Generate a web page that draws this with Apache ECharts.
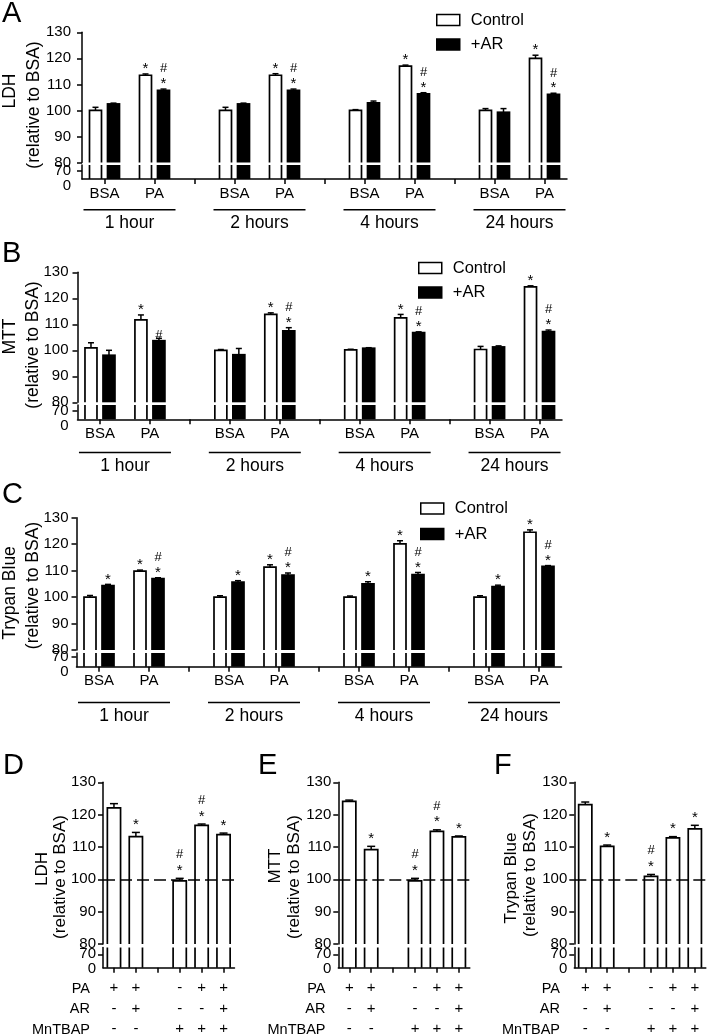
<!DOCTYPE html>
<html><head><meta charset="utf-8">
<script src="https://cdn.jsdelivr.net/npm/echarts@6/dist/echarts.min.js"></script>
<style>html,body{margin:0;padding:0;background:#fff}#c{width:707px;height:1034px}</style>
</head><body><div id="c"></div>
<script>
const FONT = '"Liberation Sans", Arial, Helvetica, sans-serif';

// ================= DATA =================
const timeGroups = ['1 hour', '2 hours', '4 hours', '24 hours'];
const conditions = ['BSA', 'PA'];
const legendNames = ['Control', '+AR'];

// Panels A–C, order: 1h BSA, 1h PA, 2h BSA, 2h PA, 4h BSA, 4h PA, 24h BSA, 24h PA
const ldhControl    = [100, 113.5, 100, 113.5, 100, 117.0, 100, 120.0];
const ldhControlErr = [1.2, 0.5, 1.2, 0.6, 0.3, 0.4, 0.7, 1.2];
const ldhControlSig = ['', '*', '', '*', '', '*', '', '*'];
const ldhAR         = [102.5, 107.7, 102.5, 107.7, 102.9, 106.4, 99.3, 106.2];
const ldhARErr      = [0.3, 0.5, 0.3, 0.5, 0.7, 0.4, 1.4, 0.4];
const ldhARSig      = ['', '#*', '', '#*', '', '#*', '', '#*'];

const mttControl    = [100.9, 111.7, 100, 113.8, 100.2, 112.5, 100.3, 124.4];
const mttControlErr = [2.0, 1.9, 0.3, 0.6, 0.2, 1.3, 1.2, 0.4];
const mttControlSig = ['', '*', '', '*', '', '*', '', '*'];
const mttAR         = [98.1, 103.7, 98.3, 107.5, 100.8, 106.8, 101.3, 107.2];
const mttARErr      = [1.9, 0.9, 2.4, 1.2, 0.2, 0.3, 0.4, 0.6];
const mttARSig      = ['', '#', '', '#*', '', '#*', '', '#*'];

const tbControl     = [100, 109.8, 100, 111.3, 100, 120.1, 100, 124.5];
const tbControlErr  = [0.6, 0.4, 0.5, 0.9, 0.4, 1.2, 0.5, 0.9];
const tbControlSig  = ['', '*', '', '*', '', '*', '', '*'];
const tbAR          = [104.3, 107.0, 105.7, 108.3, 105.0, 108.5, 104.0, 111.6];
const tbARErr       = [0.5, 0.3, 0.5, 0.8, 0.8, 0.8, 0.5, 0.3];
const tbARSig       = ['*', '#*', '*', '#*', '*', '#*', '*', '#*'];

// Panels D–F
const rowNames  = ['PA', 'AR', 'MnTBAP'];
const paRow     = ['+', '+', '-', '+', '+'];
const arRow     = ['-', '+', '-', '-', '+'];
const mntbapRow = ['-', '-', '+', '+', '+'];

const ldhMn     = [122.1, 113.2, 99.5, 116.7, 113.8];
const ldhMnErr  = [1.3, 1.3, 0.8, 0.4, 0.5];
const ldhMnSig  = ['', '*', '#*', '#*', '*'];
const mttMn     = [124.1, 109.2, 99.5, 114.8, 113.1];
const mttMnErr  = [0.4, 1.0, 0.8, 0.5, 0.3];
const mttMnSig  = ['', '*', '#*', '#*', '*'];
const tbMn      = [123.1, 110.2, 100.9, 112.8, 115.6];
const tbMnErr   = [0.8, 0.4, 0.6, 0.4, 1.1];
const tbMnSig   = ['', '*', '#*', '*', '*'];

// ================= CATEGORY SLOTS =================
const LEAD = 4, PAIR = 10, HALF = 8, PERIOD = PAIR + 2 * HALF;
const nTop = 2 * LEAD + (timeGroups.length - 1) * PERIOD + PAIR + 1;
const topCats = Array.from({length: nTop}, (_, i) => 'slot' + i);
const topLabel = {}, topTicks = new Set(), topPos = [];
timeGroups.forEach((g, gi) => {
  const b = LEAD + gi * PERIOD;
  conditions.forEach((c, ci) => {
    const idx = b + ci * PAIR;
    topPos.push(idx); topLabel[idx] = {kind: 'c', text: c}; topTicks.add(idx);
  });
  topLabel[b + PAIR / 2] = {kind: 'g', text: g};
  if (gi < timeGroups.length - 1) topTicks.add(b + PAIR + HALF);
});
const botPos = paRow.map((_, i) => (i < 2 ? i : i + 1));
const botCats = Array.from({length: paRow.length + 1}, (_, i) => 'b' + i);
const botLabel = {};
botPos.forEach((p, k) => { botLabel[p] = `{r|${paRow[k]}}\n{r|${arRow[k]}}\n{r|${mntbapRow[k]}}`; });

// ================= HELPERS =================
const option = {animation: false, backgroundColor: '#fff', grid: [], xAxis: [], yAxis: [], series: [], legend: [], graphic: []};

const axisLineStyle = {show: true, lineStyle: {color: '#000', width: 1.5}};
const tickStyle = {show: true, length: 5, lineStyle: {color: '#000', width: 1.5}};
const BORDER = 1.7;

function makeRender(o) {
  return function (params, api) {
    const cs = params.coordSys;
    const i = api.value(0), v = api.value(1);
    const pTop = api.coord([i, v]);
    const cx = pTop[0] + o.offset;
    const x0 = cx - o.barW / 2, x1 = cx + o.barW / 2;
    const gTop = cs.y, gBot = cs.y + cs.height;
    const upper = o.segment === 'upper';
    const topInside = upper && pTop[1] >= gTop;
    const yTop = upper ? Math.max(pTop[1], gTop) : gTop;
    const yBot = gBot;
    const ch = [];
    if (o.white) {
      ch.push({type: 'rect', shape: {x: x0, y: yTop, width: x1 - x0, height: yBot - yTop}, style: {fill: '#fff'}});
      if (topInside) {
        ch.push({type: 'polyline', shape: {points: [[x0, yBot], [x0, yTop], [x1, yTop], [x1, yBot]]}, style: {stroke: '#000', lineWidth: BORDER, fill: null}});
      } else {
        ch.push({type: 'line', shape: {x1: x0, y1: yTop, x2: x0, y2: yBot}, style: {stroke: '#000', lineWidth: BORDER}});
        ch.push({type: 'line', shape: {x1: x1, y1: yTop, x2: x1, y2: yBot}, style: {stroke: '#000', lineWidth: BORDER}});
      }
    } else {
      const h = BORDER / 2;
      const t = topInside ? yTop - h : yTop;
      ch.push({type: 'rect', shape: {x: x0 - h, y: t, width: x1 - x0 + 2 * h, height: yBot - t}, style: {fill: '#000'}});
    }
    if (upper) {
      const e = o.errs[params.dataIndex];
      const pE = api.coord([i, v + e]);
      ch.push({type: 'line', shape: {x1: cx, y1: pTop[1], x2: cx, y2: pE[1]}, style: {stroke: '#000', lineWidth: 1.5}});
      ch.push({type: 'line', shape: {x1: cx - o.cap, y1: pE[1], x2: cx + o.cap, y2: pE[1]}, style: {stroke: '#000', lineWidth: 1.5}});
      const s = o.sigs[params.dataIndex] || '';
      if (s.indexOf('*') >= 0) ch.push({type: 'text', x: cx, y: pE[1] - o.starDy, style: {text: '*', fontSize: 15, fontFamily: FONT, fill: '#000', align: 'center', verticalAlign: 'middle'}});
      if (s.indexOf('#') >= 0) {
        const dy = s.indexOf('*') >= 0 ? o.hashDy : o.starDy - 2;
        ch.push({type: 'text', x: cx, y: pE[1] - dy, style: {text: '#', fontSize: 13, fontFamily: FONT, fill: '#000', align: 'center', verticalAlign: 'middle'}});
      }
    }
    return {type: 'group', children: ch};
  };
}

function addPanel(L, cats, pos, xLabelCfg, tickFn, bars, markLine100) {
  const gU = option.grid.length;
  option.grid.push({left: L.left, top: L.y130, width: L.width, height: L.y80 - L.y130, outerBoundsMode: 'none', containLabel: false});
  option.xAxis.push({gridIndex: gU, type: 'category', data: cats, show: false});
  option.yAxis.push({gridIndex: gU, type: 'value', min: 80, max: 130, interval: 10,
    axisLine: axisLineStyle, axisTick: tickStyle, splitLine: {show: false},
    axisLabel: {color: '#000', fontSize: 15, fontFamily: FONT, margin: L.yMargin, showMinLabel: true, showMaxLabel: true, hideOverlap: false}});
  const gL = gU + 1;
  option.grid.push({left: L.left, top: L.lowTop, width: L.width, height: L.y0 - L.lowTop, outerBoundsMode: 'none', containLabel: false});
  option.xAxis.push({gridIndex: gL, type: 'category', data: cats, z: 5,
    axisLine: axisLineStyle,
    axisTick: Object.assign({}, tickStyle, {alignWithLabel: true, interval: tickFn}),
    splitLine: {show: false}, axisLabel: xLabelCfg});
  const lowerMax = 70 * (L.y0 - L.lowTop) / (L.y0 - L.y70);
  // the "0" at the foot of the axis is carried by the axis name (the 0 and 70 labels are too close
  // for the automatic min-label handling to keep both)
  option.yAxis.push({gridIndex: gL, type: 'value', min: 0, max: lowerMax, interval: 70,
    name: '0', nameLocation: 'start', nameGap: 0,
    nameTextStyle: {color: '#000', fontSize: 15, fontFamily: FONT, align: 'right', verticalAlign: 'middle', padding: [0, L.yMargin, 0, 0]},
    axisLine: axisLineStyle, axisTick: tickStyle, splitLine: {show: false},
    axisLabel: {color: '#000', fontSize: 15, fontFamily: FONT, margin: L.yMargin,
      showMinLabel: false, showMaxLabel: false,
      formatter: v => (v === 70) ? String(v) : ''}});
  bars.forEach((b, bi) => {
    const data = b.values.map((v, k) => [pos[k], v]);
    ['upper', 'lower'].forEach(seg => {
      const s = {type: 'custom', name: b.name, xAxisIndex: seg === 'upper' ? gU : gL, yAxisIndex: seg === 'upper' ? gU : gL,
        data: data, clip: false, silent: true, z: 2,
        renderItem: makeRender({offset: b.offset, barW: b.barW, white: b.white, segment: seg,
          errs: b.errs, sigs: b.sigs, cap: b.cap, starDy: L.starDy, hashDy: L.hashDy})};
      if (seg === 'upper' && markLine100 && bi === 0) {
        s.markLine = {silent: true, symbol: ['none', 'none'], label: {show: false}, z: 10,
          lineStyle: {color: '#000', width: 1.5, type: [12, 5]}, data: [{yAxis: 100}]};
      }
      option.series.push(s);
    });
  });
}

function txt(text, x, y, size, align, rot) {
  return {type: 'text', x: x, y: y, rotation: rot || 0, z: 100,
    style: {text: text, fontSize: size, fontFamily: FONT, fill: '#000',
      align: align || 'center', textAlign: align || 'center', verticalAlign: 'middle', textVerticalAlign: 'middle'}};
}

// ================= TOP PANELS (A–C) =================
const topPanels = [
  {letter: 'A', lx: 2, ly: 14, t1: 'LDH', t1x: 10.5, t1y: 91, t2x: 34, t2y: 105,
   left: 82, width: 485, y130: 32.3, y80: 162.5, lowTop: 165, y70: 171, y0: 179, yMargin: 11, spacer: 23,
   legendLeft: 436, legendTop: 11.5, legendGap: 7.5,
   ctl: ldhControl, ctlErr: ldhControlErr, ctlSig: ldhControlSig, ar: ldhAR, arErr: ldhARErr, arSig: ldhARSig},
  {letter: 'B', lx: 2, ly: 253.5, t1: 'MTT', t1x: 10.5, t1y: 336.5, t2x: 33.5, t2y: 345,
   left: 77.5, width: 484.5, y130: 272.3, y80: 402.3, lowTop: 405, y70: 411, y0: 419.3, yMargin: 9, spacer: 25.5,
   legendLeft: 418, legendTop: 259.5, legendGap: 7.5,
   ctl: mttControl, ctlErr: mttControlErr, ctlSig: mttControlSig, ar: mttAR, arErr: mttARErr, arSig: mttARSig},
  {letter: 'C', lx: 2, ly: 494.5, t1: 'Trypan Blue', t1x: 10.5, t1y: 593, t2x: 33.5, t2y: 585.5,
   left: 76.5, width: 485, y130: 517.7, y80: 650, lowTop: 653, y70: 657, y0: 666.7, yMargin: 8, spacer: 28,
   legendLeft: 420, legendTop: 500, legendGap: 8.5,
   ctl: tbControl, ctlErr: tbControlErr, ctlSig: tbControlSig, ar: tbAR, arErr: tbARErr, arSig: tbARSig}
];

topPanels.forEach(P => {
  P.starDy = 5; P.hashDy = 20.2;
  const rich = {
    c: {fontSize: 15, lineHeight: 15, fontFamily: FONT, color: '#000'},
    s: {fontSize: 1, height: P.spacer, lineHeight: P.spacer},
    l: {width: 92, height: 1.5, lineHeight: 1.5, backgroundColor: '#000'},
    g: {fontSize: 17.5, lineHeight: 25, fontFamily: FONT, color: '#000'}
  };
  const xLabel = {interval: 0, margin: 7, color: '#000', fontFamily: FONT, rich: rich,
    formatter: (value, index) => {
      const T = topLabel[index];
      if (!T) return '';
      return T.kind === 'c' ? `{c|${T.text}}` : `{s| }\n{l|}\n{g|${T.text}}`;
    }};
  addPanel(P, topCats, topPos, xLabel, (idx) => topTicks.has(idx), [
    {name: legendNames[0], values: P.ctl, errs: P.ctlErr, sigs: P.ctlSig, white: true, offset: -9, barW: 12, cap: 3},
    {name: legendNames[1], values: P.ar, errs: P.arErr, sigs: P.arSig, white: false, offset: 9, barW: 12, cap: 3}
  ], false);
  option.legend.push({left: P.legendLeft, top: P.legendTop, padding: 0, orient: 'vertical', itemWidth: 23, itemHeight: 11,
    itemGap: P.legendGap, selectedMode: false,
    textStyle: {fontSize: 16.5, fontFamily: FONT, color: '#000', lineHeight: 16, padding: [0, 0, 0, 6]},
    data: [
      {name: legendNames[0], icon: 'rect', itemStyle: {color: '#fff', borderColor: '#000', borderWidth: 1.5}},
      {name: legendNames[1], icon: 'rect', itemStyle: {color: '#000', borderColor: '#000', borderWidth: 1.5}}
    ]});
  option.graphic.push(txt(P.letter, P.lx, P.ly, 29, 'left'));
  option.graphic.push(txt(P.t1, P.t1x, P.t1y, 17.5, 'center', Math.PI / 2));
  option.graphic.push(txt('(relative to BSA)', P.t2x, P.t2y, 17.5, 'center', Math.PI / 2));
});

// ================= BOTTOM PANELS (D–F) =================
const botPanels = [
  {letter: 'D', lx: 3, ly: 766, t1: 'LDH', t1x: 42, t1y: 869, t2x: 60, t2y: 877, rowX: 90,
   left: 103, vals: ldhMn, errs: ldhMnErr, sigs: ldhMnSig},
  {letter: 'E', lx: 258, ly: 766, t1: 'MTT', t1x: 275.5, t1y: 866, t2x: 294, t2y: 877, rowX: 325.5,
   left: 338.3, vals: mttMn, errs: mttMnErr, sigs: mttMnSig},
  {letter: 'F', lx: 494, ly: 766, t1: 'Trypan Blue', t1x: 511.5, t1y: 878, t2x: 530.5, t2y: 875, rowX: 560,
   left: 574.3, vals: tbMn, errs: tbMnErr, sigs: tbMnSig}
];
botPanels.forEach(P => {
  Object.assign(P, {width: 131.5, y130: 782.3, y80: 944, lowTop: 947.5, y70: 954.3, y0: 967.7, yMargin: 7, starDy: 7.5, hashDy: 23.7});
  const xLabel = {interval: 0, margin: 10.3, color: '#000', fontFamily: FONT,
    rich: {r: {fontSize: 15, lineHeight: 20.5, fontFamily: FONT, color: '#000'}},
    formatter: (value, index) => botLabel[index] || ''};
  addPanel(P, botCats, botPos, xLabel, () => true, [
    {name: P.t1 + ' (MnTBAP)', values: P.vals, errs: P.errs, sigs: P.sigs, white: true, offset: 0, barW: 13.2, cap: 4}
  ], true);
  option.graphic.push(txt(P.letter, P.lx, P.ly, 29, 'left'));
  option.graphic.push(txt(P.t1, P.t1x, P.t1y, 17, 'center', Math.PI / 2));
  option.graphic.push(txt('(relative to BSA)', P.t2x, P.t2y, 17, 'center', Math.PI / 2));
  const rowY = [988.5, 1009, 1029.5];
  rowNames.forEach((r, k) => option.graphic.push(txt(r, P.rowX, rowY[k], 14.5, 'right')));
});

const chart = echarts.init(document.getElementById('c'), null, {renderer: 'canvas'});
chart.setOption(option);
</script>
</body></html>
